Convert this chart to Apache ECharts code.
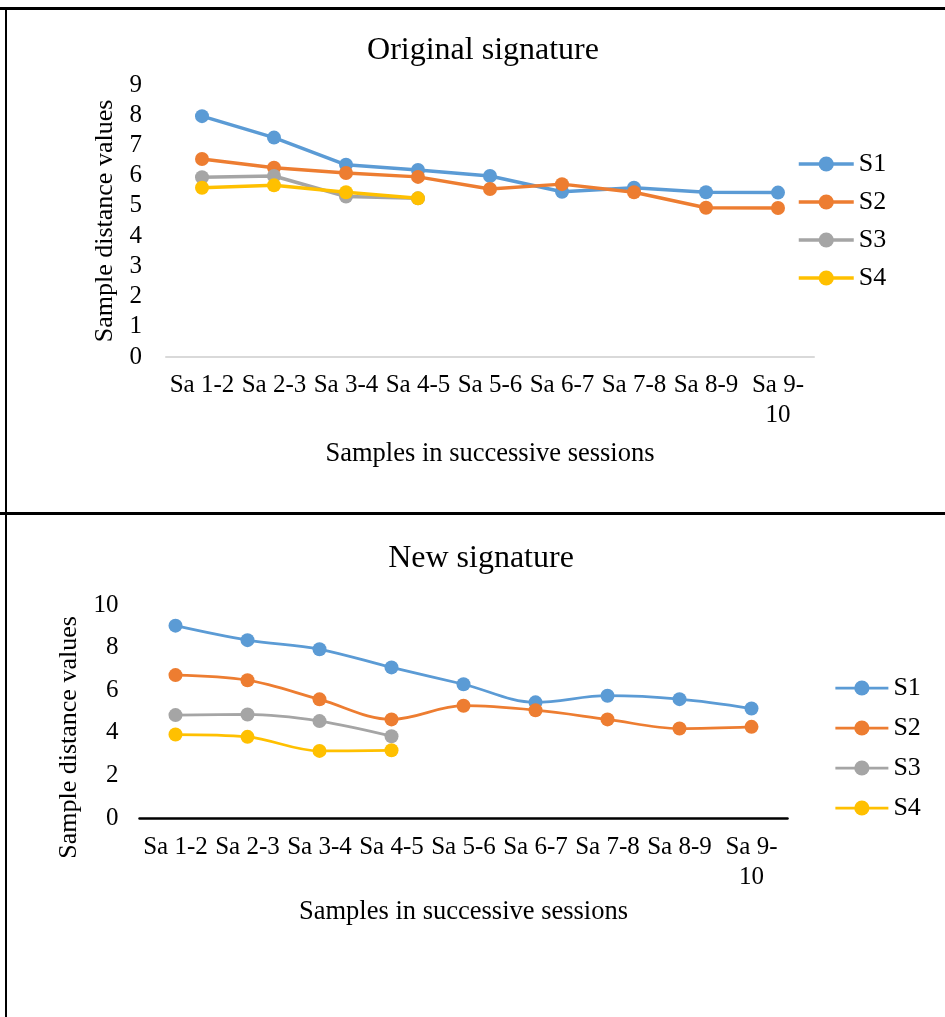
<!DOCTYPE html>
<html>
<head>
<meta charset="utf-8">
<script src="https://cdn.jsdelivr.net/npm/echarts@6/dist/echarts.min.js"></script>
<style>
html,body{margin:0;padding:0;background:#fff;}
#c{position:absolute;left:0;top:0;width:945px;height:1017px;}
.b{position:absolute;background:#000;}
</style>
</head>
<body>
<div id="c"></div>
<div class="b" style="left:0;top:7px;width:945px;height:3px;"></div>
<div class="b" style="left:5px;top:7px;width:2px;height:1010px;"></div>
<div class="b" style="left:0;top:512px;width:945px;height:3px;"></div>
<script>
const categories = ['Sa 1-2','Sa 2-3','Sa 3-4','Sa 4-5','Sa 5-6','Sa 6-7','Sa 7-8','Sa 8-9','Sa 9-10'];
const seriesNames = ['S1','S2','S3','S4'];
const origS1 = [7.97, 7.26, 6.36, 6.19, 5.99, 5.47, 5.60, 5.45, 5.44];
const origS2 = [6.55, 6.26, 6.09, 5.96, 5.56, 5.72, 5.45, 4.94, 4.93];
const origS3 = [5.95, 5.99, 5.31, 5.25];
const origS4 = [5.60, 5.68, 5.45, 5.25];
const newS1 = [9.03, 8.35, 7.92, 7.07, 6.28, 5.43, 5.74, 5.58, 5.14];
const newS2 = [6.71, 6.47, 5.57, 4.63, 5.27, 5.06, 4.63, 4.20, 4.28];
const newS3 = [4.83, 4.86, 4.55, 3.84];
const newS4 = [3.92, 3.81, 3.15, 3.18];
const origTicks = ['0','1','2','3','4','5','6','7','8','9'];
const newTicks = ['0','2','4','6','8','10'];

const colors = ['#5B9BD5','#ED7D31','#A5A5A5','#FFC000'];
const FONT = "'Liberation Serif','Times New Roman',serif";
const chart = echarts.init(document.getElementById('c'), null, {renderer:'canvas'});

function xAxis(gi, lineColor, lineWidth, margin, nameGap){
  return {
    type:'category', gridIndex:gi, data:categories, boundaryGap:true,
    axisLine:{show:true, lineStyle:{color:lineColor, width:lineWidth}},
    axisTick:{show:false},
    axisLabel:{interval:0, margin:margin, color:'#000', fontFamily:FONT, fontSize:25, lineHeight:30,
      formatter:v => v === 'Sa 9-10' ? 'Sa 9-\n10' : v},
    name:'Samples in successive sessions', nameLocation:'middle', nameGap:nameGap,
    nameTextStyle:{color:'#000', fontFamily:FONT, fontSize:26.5}
  };
}
function yAxis(gi, max, interval, ticks, margin, nameGap, pad){
  return {
    type:'value', gridIndex:gi, min:0, max:max, interval:interval,
    axisLine:{show:false}, axisTick:{show:false}, splitLine:{show:false},
    axisLabel:{margin:margin, color:'#000', fontFamily:FONT, fontSize:25,
      formatter:v => ticks[Math.round(v/interval)]},
    name:'Sample distance values', nameLocation:'middle', nameGap:nameGap, nameRotate:90,
    nameTextStyle:{color:'#000', fontFamily:FONT, fontSize:26, padding:pad}
  };
}
function mk(name, data, idx, gi, smooth, lw){
  return {
    name:name, type:'line', xAxisIndex:gi, yAxisIndex:gi, data:data, smooth:smooth,
    symbol:'circle', symbolSize:14, showSymbol:true,
    lineStyle:{color:colors[idx], width:lw}, itemStyle:{color:colors[idx]},
    emphasis:{disabled:true}, animation:false
  };
}
const origData = [origS1, origS2, origS3, origS4];
const newData = [newS1, newS2, newS3, newS4];
const series = [];
origData.forEach((d,i)=>series.push(mk(seriesNames[i], d, i, 0, false, 3.5)));
newData.forEach((d,i)=>series.push(mk(seriesNames[i], d, i, 1, 0.35, 2.75)));

const legendBase = {orient:'vertical', padding:0, itemWidth:55, itemHeight:19, itemTextGap:4,
  data:seriesNames, selectedMode:false,
  textStyle:{fontFamily:FONT, fontSize:26, lineHeight:25, color:'#000'}};

chart.setOption({
  animation:false,
  title:[
    {text:'Original signature', left:483, textAlign:'center', top:35, padding:0, textStyle:{fontFamily:FONT, fontSize:32, fontWeight:'normal', color:'#000'}},
    {text:'New signature', left:481, textAlign:'center', top:543, padding:0, textStyle:{fontFamily:FONT, fontSize:32, fontWeight:'normal', color:'#000'}}
  ],
  legend:[
    Object.assign({}, legendBase, {left:797, top:151, itemGap:12, lineStyle:{width:3.5}}),
    Object.assign({}, legendBase, {left:834, top:675, itemWidth:53, itemGap:14, lineStyle:{width:2.75}})
  ],
  grid:[
    {left:166, top:85, width:648, height:272, containLabel:false},
    {left:139.5, top:605, width:648, height:213, containLabel:false}
  ],
  xAxis:[xAxis(0, '#D9D9D9', 2, 13, 84), xAxis(1, '#000', 2.5, 14, 81)],
  yAxis:[yAxis(0, 9, 1, origTicks, 24, 45, 0), yAxis(1, 10, 2, newTicks, 21, 53, [0,52,0,0])],
  series:series
});
</script>
</body>
</html>
